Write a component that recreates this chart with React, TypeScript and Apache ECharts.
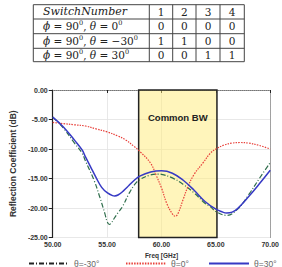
import React, { useEffect, useRef } from "react";
import * as echarts from "echarts";

// ---- data ----
const freqNeg30 = [50, 51, 52, 52.7, 53, 53.8, 54.3, 54.8, 55.0, 55.2, 55.4, 55.6, 56, 56.4, 57, 57.5, 58, 59, 59.7, 60, 61, 62, 63, 64, 64.5, 65, 66, 67, 68, 69, 70];
const dbNeg30 = [-4.6, -6.5, -9.0, -10.7, -12.0, -15.3, -18.0, -21.0, -22.3, -22.8, -22.5, -21.9, -20.8, -19.8, -17.6, -16.1, -15.2, -14.4, -14.25, -14.3, -14.9, -16.0, -17.45, -19.2, -19.8, -20.6, -21.25, -20.2, -17.8, -15.0, -12.3];

const freqZero = [50, 51, 52, 53, 54, 55, 56, 56.7, 57.5, 58, 59, 59.5, 60, 60.5, 61, 61.25, 61.5, 62, 62.4, 63, 63.8, 64.5, 65, 65.8, 66.5, 67.2, 68, 69, 70];
const dbZero = [-5.5, -5.7, -5.9, -6.1, -6.6, -7.1, -7.8, -8.45, -9.6, -10.4, -12.4, -14.4, -16.6, -19.3, -21.0, -21.4, -21.0, -18.5, -16.5, -14.3, -12.4, -10.7, -10.0, -9.3, -9.0, -8.9, -9.0, -9.4, -10.0];

const freqPos30 = [50, 51, 52, 52.7, 53, 53.5, 54, 54.5, 55, 55.5, 55.7, 56, 56.5, 57, 57.5, 58, 59, 60, 61, 62, 63, 64, 65, 65.5, 66, 66.5, 67, 68, 69, 70];
const dbPos30 = [-4.6, -6.3, -8.5, -10.15, -11.3, -13.1, -14.9, -16.5, -17.4, -17.9, -17.95, -17.8, -17.1, -16.2, -15.3, -14.6, -13.9, -13.7, -14.1, -15.3, -17.0, -18.9, -20.2, -20.6, -20.85, -20.7, -20.1, -18.1, -15.9, -13.6];

const seriesNames = ["θ=-30°", "θ=0°", "θ=30°"];
const commonBW = [57.9, 65.1];
const xTicks = { min: 50, max: 70, interval: 5 };
const yTicks = { min: -25, max: 0, interval: 5 };

const tableHeader = ["SwitchNumber", "1", "2", "3", "4"];
const tableRowLabels = [
  "{i|ϕ}{n| = 90}{s|0}{n|, }{i|θ}{n| = 0}{s|0}",
  "{i|ϕ}{n| = 90}{s|0}{n|, }{i|θ}{n| = −30}{s|0}",
  "{i|ϕ}{n| = 90}{s|0}{n|, }{i|θ}{n| = 30}{s|0}",
];
const tableValues = [
  ["0", "0", "0", "0"],
  ["1", "1", "0", "0"],
  ["0", "0", "1", "1"],
];

const zip = (xs: number[], ys: number[]) => xs.map((x, i) => [x, ys[i]]);

export default function App() {
  const ref = useRef<HTMLDivElement>(null);
  useEffect(() => {
    if (!ref.current) return;
    const chart = echarts.init(ref.current, null, { renderer: "svg" });

    const colX = [33.3, 149.3, 172.7, 196, 220, 244.3];
    const rowY = [4.7, 19, 33.7, 48.3, 61.7];
    const serif = "'DejaVu Serif', 'Liberation Serif', serif";
    const rich = {
      n: { fontFamily: serif, fontSize: 10.5, lineHeight: 13, fill: "#222" },
      i: { fontFamily: serif, fontSize: 10.5, lineHeight: 13, fontStyle: "italic", fill: "#222" },
      s: { fontFamily: serif, fontSize: 6.5, lineHeight: 8, verticalAlign: "top", fill: "#222" },
    };
    const tableEls: any[] = [];
    tableEls.push({
      type: "rect",
      shape: { x: colX[0], y: rowY[0], width: colX[5] - colX[0], height: rowY[4] - rowY[0] },
      style: { fill: "#fff", stroke: "#444", lineWidth: 1 },
    });
    for (let r = 1; r < 4; r++)
      tableEls.push({ type: "line", shape: { x1: colX[0], y1: rowY[r], x2: colX[5], y2: rowY[r] }, style: { stroke: "#444", lineWidth: 1 } });
    for (let c = 1; c < 5; c++)
      tableEls.push({ type: "line", shape: { x1: colX[c], y1: rowY[0], x2: colX[c], y2: rowY[4] }, style: { stroke: "#444", lineWidth: 1 } });
    tableEls.push({
      type: "text", x: 43, y: (rowY[0] + rowY[1]) / 2,
      style: { text: tableHeader[0], fontFamily: serif, fontSize: 11, fontStyle: "italic", fill: "#222", verticalAlign: "middle" },
    });
    for (let c = 1; c < 5; c++)
      tableEls.push({
        type: "text", x: (colX[c] + colX[c + 1]) / 2, y: (rowY[0] + rowY[1]) / 2,
        style: { text: tableHeader[c], fontFamily: serif, fontSize: 10.5, fill: "#222", align: "center", verticalAlign: "middle" },
      });
    tableRowLabels.forEach((lab, r) => {
      const cy = (rowY[r + 1] + rowY[r + 2]) / 2;
      tableEls.push({ type: "text", x: 43, y: cy, style: { text: lab, rich, verticalAlign: "middle" } });
      tableValues[r].forEach((v, c) => {
        tableEls.push({
          type: "text", x: (colX[c + 1] + colX[c + 2]) / 2, y: cy,
          style: { text: v, fontFamily: serif, fontSize: 10.5, fill: "#222", align: "center", verticalAlign: "middle" },
        });
      });
    });

    const sans = "'Liberation Sans', Arial, sans-serif";
    const legendCommon = {
      top: 254,
      itemWidth: 40,
      itemHeight: 8,
      itemStyle: { opacity: 0 },
      textStyle: { fontFamily: sans, fontSize: 8.5, color: "#666" },
    };

    chart.setOption({
      animation: false,
      graphic: tableEls,
      grid: { left: 40, right: 8, top: 90, bottom: 29.5 },
      legend: [
        { ...legendCommon, left: 23, data: [{ name: seriesNames[0], lineStyle: { color: "#222" } }] },
        { ...legendCommon, left: 120, data: [seriesNames[1]] },
        { ...legendCommon, left: 203, data: [seriesNames[2]] },
      ],
      xAxis: [
        {
          type: "value", ...xTicks,
          name: "Freq [GHz]", nameLocation: "middle", nameGap: 9,
          nameTextStyle: { fontFamily: sans, fontSize: 6.5, fontWeight: "bold", color: "#333" },
          axisLine: { lineStyle: { color: "#222", width: 1.2 } },
          axisTick: { show: true, length: 3, lineStyle: { color: "#222" } },
          axisLabel: { fontFamily: sans, fontSize: 7, fontWeight: "bold", color: "#333", margin: 3, formatter: (v: number) => v.toFixed(2) },
          splitLine: { show: true, lineStyle: { color: "#e2e2e2", width: 0.8 } },
        },
        {
          type: "value", ...xTicks, position: "top",
          axisLine: { show: true, lineStyle: { color: "#999", type: "dotted", width: 1 } },
          axisTick: { show: false }, axisLabel: { show: false }, splitLine: { show: false },
        },
      ],
      yAxis: [
        {
          type: "value", ...yTicks,
          name: "Reflection Coefficient (dB)", nameLocation: "middle", nameGap: 24,
          nameTextStyle: { fontFamily: sans, fontSize: 8.5, fontWeight: "bold", color: "#333" },
          axisLine: { show: true, lineStyle: { color: "#222", width: 1.2 } },
          axisTick: { show: true, length: 4, lineStyle: { color: "#222" } },
          axisLabel: { fontFamily: sans, fontSize: 7, fontWeight: "bold", color: "#333", margin: 5, formatter: (v: number) => v.toFixed(2) },
          splitLine: { show: true, lineStyle: { color: "#e2e2e2", width: 0.8 } },
        },
        {
          type: "value", ...yTicks, position: "right",
          axisLine: { show: true, lineStyle: { color: "#999", type: "dotted", width: 1 } },
          axisTick: { show: false }, axisLabel: { show: false }, splitLine: { show: false },
        },
      ],
      series: [
        {
          name: "bw", type: "line", data: [], z: 1, silent: true,
          markArea: {
            silent: true,
            itemStyle: { color: "rgba(255, 236, 120, 0.5)", borderColor: "#222", borderWidth: 1.5 },
            label: {
              show: true, position: "insideTop", distance: 23,
              fontFamily: sans, fontSize: 9.5, fontWeight: "bold", color: "#222",
            },
            data: [[{ name: "Common BW", xAxis: commonBW[0], yAxis: yTicks.max }, { xAxis: commonBW[1], yAxis: yTicks.min }]],
          },
        },
        {
          name: seriesNames[0], type: "line", smooth: 0.4, symbol: "none", z: 3,
          data: zip(freqNeg30, dbNeg30),
          itemStyle: { color: "#2f6e4c" },
          lineStyle: { color: "#2f6e4c", width: 1.2, type: [5, 2, 1, 2] },
        },
        {
          name: seriesNames[1], type: "line", smooth: 0.4, symbol: "none", z: 3,
          data: zip(freqZero, dbZero),
          itemStyle: { color: "#e8413b" },
          lineStyle: { color: "#e8413b", width: 1.2, type: [1.5, 1.2] },
        },
        {
          name: seriesNames[2], type: "line", smooth: 0.4, symbol: "none", z: 3,
          data: zip(freqPos30, dbPos30),
          itemStyle: { color: "#3639c4" },
          lineStyle: { color: "#3639c4", width: 1.5 },
        },
      ],
    });
    return () => chart.dispose();
  }, []);
  return <div ref={ref} style={{ width: 282, height: 267, position: "absolute", left: 0, top: 0 }} />;
}
